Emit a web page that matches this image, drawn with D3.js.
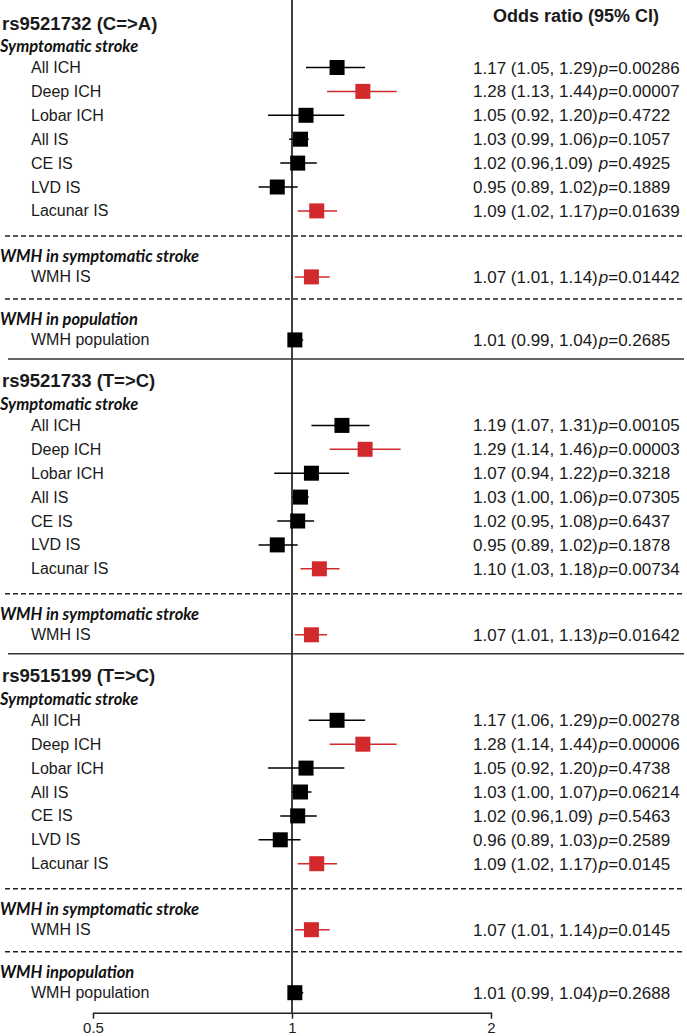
<!DOCTYPE html>
<html><head><meta charset="utf-8">
<script src="https://cdn.jsdelivr.net/npm/d3@7"></script>
<style>body{margin:0;background:#fff}svg{display:block}</style>
</head><body><svg id="c" width="687" height="1036"></svg>
<script>
// ---------- DATA ----------
const snps = ["rs9521732 (C=>A)", "rs9521733 (T=>C)", "rs9515199 (T=>C)"];
const sectionGroups = [
  ["Symptomatic stroke", "WMH in symptomatic stroke", "WMH in population"],
  ["Symptomatic stroke", "WMH in symptomatic stroke"],
  ["Symptomatic stroke", "WMH in symptomatic stroke", "WMH inpopulation"]
];
const rowSection = [0,0,0,0,0,0,0,0,0, 1,1,1,1,1,1,1,1, 2,2,2,2,2,2,2,2,2];
const rowGroup   = [0,0,0,0,0,0,0,1,2, 0,0,0,0,0,0,0,1, 0,0,0,0,0,0,0,1,2];
const rowLabels = [
  "All ICH","Deep ICH","Lobar ICH","All IS","CE IS","LVD IS","Lacunar IS","WMH IS","WMH population",
  "All ICH","Deep ICH","Lobar ICH","All IS","CE IS","LVD IS","Lacunar IS","WMH IS",
  "All ICH","Deep ICH","Lobar ICH","All IS","CE IS","LVD IS","Lacunar IS","WMH IS","WMH population"
];
const oddsRatio = [1.17,1.28,1.05,1.03,1.02,0.95,1.09,1.07,1.01, 1.19,1.29,1.07,1.03,1.02,0.95,1.10,1.07, 1.17,1.28,1.05,1.03,1.02,0.96,1.09,1.07,1.01];
const ciLow     = [1.05,1.13,0.92,0.99,0.96,0.89,1.02,1.01,0.99, 1.07,1.14,0.94,1.00,0.95,0.89,1.03,1.01, 1.06,1.14,0.92,1.00,0.96,0.89,1.02,1.01,0.99];
const ciHigh    = [1.29,1.44,1.20,1.06,1.09,1.02,1.17,1.14,1.04, 1.31,1.46,1.22,1.06,1.08,1.02,1.18,1.13, 1.29,1.44,1.20,1.07,1.09,1.03,1.17,1.14,1.04];
const ciText = [
  "1.17 (1.05, 1.29)","1.28 (1.13, 1.44)","1.05 (0.92, 1.20)","1.03 (0.99, 1.06)","1.02 (0.96,1.09) ","0.95 (0.89, 1.02)","1.09 (1.02, 1.17)","1.07 (1.01, 1.14)","1.01 (0.99, 1.04)",
  "1.19 (1.07, 1.31)","1.29 (1.14, 1.46)","1.07 (0.94, 1.22)","1.03 (1.00, 1.06)","1.02 (0.95, 1.08)","0.95 (0.89, 1.02)","1.10 (1.03, 1.18)","1.07 (1.01, 1.13)",
  "1.17 (1.06, 1.29)","1.28 (1.14, 1.44)","1.05 (0.92, 1.20)","1.03 (1.00, 1.07)","1.02 (0.96,1.09) ","0.96 (0.89, 1.03)","1.09 (1.02, 1.17)","1.07 (1.01, 1.14)","1.01 (0.99, 1.04)"
];
const pValues = [
  "0.00286","0.00007","0.4722","0.1057","0.4925","0.1889","0.01639","0.01442","0.2685",
  "0.00105","0.00003","0.3218","0.07305","0.6437","0.1878","0.00734","0.01642",
  "0.00278","0.00006","0.4738","0.06214","0.5463","0.2589","0.0145","0.0145","0.2688"
];
// small-vessel-disease outcomes highlighted in red
const highlighted = [0,1,0,0,0,0,1,1,0, 0,1,0,0,0,0,1,1, 0,1,0,0,0,0,1,1,0];
const tickValues = [0.5, 1, 2];
const tickLabels = ["0.5", "1", "2"];
const columnTitle = "Odds ratio (95% CI)";

// ---------- LAYOUT ----------
const RED = "#d2292d";
const svg = d3.select("#c");
const x = d3.scaleLog().domain([0.5, 2]).range([93, 491]);

const gap = {solidTitle:22, titleHeader:23, headerFirst:21.5, rowRow:23.9, lacDash:25, rowDash:22, dashHeader:20.5, headerRow:20.5, rowSolid:19, rowAxis:20};
let y = 1;
const titleY = [], headerY = [], dashY = [], solidY = [], rowY = [], headerText = [];
let axisY = 0;
snps.forEach((s, si) => {
  y += gap.solidTitle; titleY.push(y);
  let prevGroup = -1;
  rowLabels.forEach((l, i) => {
    if (rowSection[i] !== si) return;
    const g = rowGroup[i];
    if (g !== prevGroup) {
      if (prevGroup === -1) { y += gap.titleHeader; headerY.push(y); headerText.push(sectionGroups[si][g]); y += gap.headerFirst; }
      else {
        y += (prevGroup === 0 ? gap.lacDash : gap.rowDash); dashY.push(y);
        y += gap.dashHeader; headerY.push(y); headerText.push(sectionGroups[si][g]);
        y += gap.headerRow;
      }
      prevGroup = g;
    } else {
      y += gap.rowRow;
    }
    rowY[i] = y;
  });
  if (si < snps.length - 1) { y += gap.rowSolid; solidY.push(y); }
  else { y += gap.rowAxis; axisY = y; }
});

const font = "'Liberation Sans', Arial, sans-serif";

// reference line at OR = 1
svg.append("line").attr("x1", x(1)).attr("x2", x(1)).attr("y1", 0).attr("y2", axisY)
  .attr("stroke", "#000").attr("stroke-width", 1.5);

// separators
svg.selectAll(".dash").data(dashY).join("line")
  .attr("x1", 5).attr("x2", 684).attr("y1", d => d).attr("y2", d => d)
  .attr("stroke", "#222").attr("stroke-width", 1.5).attr("stroke-dasharray", "5,3");
svg.selectAll(".solid").data(solidY).join("line")
  .attr("x1", 8).attr("x2", 684).attr("y1", d => d).attr("y2", d => d)
  .attr("stroke", "#333").attr("stroke-width", 1.5);

// titles
svg.selectAll(".snp").data(snps).join("text")
  .attr("x", 2).attr("y", (d, i) => titleY[i]).attr("dominant-baseline", "central")
  .style("font", `bold 18.5px ${font}`).attr("fill", "#1a1a1a").text(d => d);
svg.selectAll(".grp").data(headerText).join("text")
  .attr("x", 0).attr("y", (d, i) => headerY[i]).attr("dominant-baseline", "central")
  .style("font", "italic bold 16.5px Lato, sans-serif").attr("fill", "#111").text(d => d);
svg.append("text").attr("x", 576).attr("y", 16).attr("text-anchor", "middle").attr("dominant-baseline", "central")
  .style("font", `bold 18px ${font}`).attr("fill", "#1a1a1a").text(columnTitle);

// row labels
svg.selectAll(".lab").data(rowLabels).join("text")
  .attr("x", 31).attr("y", (d, i) => rowY[i]).attr("dominant-baseline", "central")
  .style("font", `16px ${font}`).attr("fill", "#1a1a1a").text(d => d);

// CI lines
svg.selectAll(".ci").data(oddsRatio).join("line")
  .attr("x1", (d, i) => x(ciLow[i])).attr("x2", (d, i) => x(ciHigh[i]))
  .attr("y1", (d, i) => rowY[i]).attr("y2", (d, i) => rowY[i])
  .attr("stroke", (d, i) => highlighted[i] ? RED : "#000").attr("stroke-width", 1.5);
// squares
const S = 15;
svg.selectAll(".pt").data(oddsRatio).join("rect")
  .attr("x", d => x(d) - S / 2).attr("y", (d, i) => rowY[i] - S / 2)
  .attr("width", S).attr("height", S)
  .attr("fill", (d, i) => highlighted[i] ? RED : "#000");

// OR text
const tx = svg.selectAll(".or").data(ciText).join("text")
  .attr("x", 473).attr("y", (d, i) => rowY[i]).attr("dominant-baseline", "central")
  .style("font", `17px ${font}`).style("white-space", "pre").attr("fill", "#1a1a1a");
tx.append("tspan").text(d => d);
tx.append("tspan").attr("dx", 1).style("font-style", "italic").text("p");
tx.append("tspan").text((d, i) => "=" + pValues[i]);

// axis
const axis = d3.axisBottom(x).tickValues(tickValues).tickFormat((d, i) => tickLabels[i]).tickSize(6).tickSizeOuter(0).tickPadding(4);
const ax = svg.append("g").attr("transform", `translate(0,${axisY})`).call(axis);
ax.select(".domain").attr("stroke", "#222").attr("stroke-width", 1.5);
ax.selectAll(".tick line").attr("stroke", "#222").attr("stroke-width", 1.5);
ax.selectAll(".tick text").style("font", `15px ${font}`).attr("fill", "#222");
</script></body></html>
